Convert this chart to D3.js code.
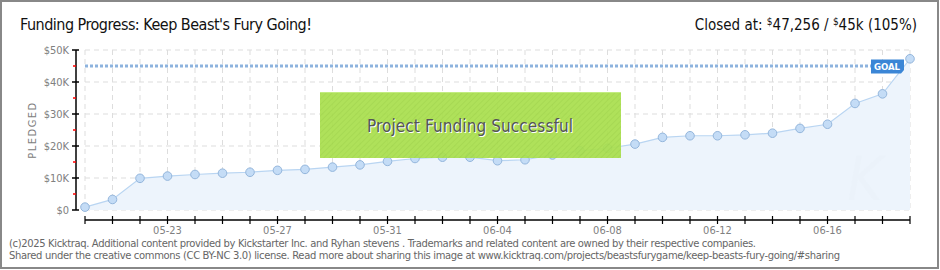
<!DOCTYPE html>
<meta charset="utf-8">
<style>
body { margin: 0; background: #fff; }
svg { display: block; }
text { font-family: "DejaVu Sans Condensed", "DejaVu Sans", sans-serif; }
.ax text { fill: #808080; font-size: 11px; }
.foot { fill: #666; font-size: 10px; font-family: "DejaVu Sans", sans-serif; }
</style>
<svg width="940" height="270"></svg>
<script src="https://cdnjs.cloudflare.com/ajax/libs/d3/7.8.5/d3.min.js"></script>
<script>

// pledged totals per day, 05-20 .. 06-19
var days = ["05-20","05-21","05-22","05-23","05-24","05-25","05-26","05-27","05-28","05-29",
            "05-30","05-31","06-01","06-02","06-03","06-04","06-05","06-06","06-07","06-08",
            "06-09","06-10","06-11","06-12","06-13","06-14","06-15","06-16","06-17","06-18","06-19"];
var pledged = [900, 3300, 9900, 10600, 11100, 11500, 11800, 12400, 12700, 13400,
               14100, 15200, 16100, 16500, 16500, 15400, 15700, 17200, 18500, 19300,
               20600, 22700, 23200, 23200, 23500, 24000, 25500, 26800, 33300, 36300, 47256];
var goal = 45000;
var labelDays = ["05-23","05-27","05-31","06-04","06-08","06-12","06-16"];
var yTicks = [0, 10000, 20000, 30000, 40000, 50000];
var yMinor = [5000, 15000, 25000, 35000, 45000];

var svg = d3.select("svg");

// frame
svg.append("rect").attr("x", 1).attr("y", 1).attr("width", 937).attr("height", 267)
    .attr("fill", "#fff").attr("stroke", "#888").attr("stroke-width", 2);

var x = d3.scalePoint().domain(days).range([85, 910]);
var y = d3.scaleLinear().domain([0, 50000]).range([210, 50]);

var defs = svg.append("defs");
var hatch = defs.append("pattern").attr("id", "hatch").attr("patternUnits", "userSpaceOnUse")
    .attr("width", 4).attr("height", 4).attr("patternTransform", "rotate(45)");
hatch.append("rect").attr("width", 4).attr("height", 4).attr("fill", "#a9df4e");
hatch.append("rect").attr("width", 1).attr("height", 4).attr("fill", "#a0d646");

// grid
var grid = svg.append("g").attr("stroke", "#ddd").attr("stroke-dasharray", "5,4");
grid.selectAll("line.v").data(days).enter().append("line")
    .attr("x1", function(d) { return x(d); }).attr("x2", function(d) { return x(d); })
    .attr("y1", 50).attr("y2", 210);
grid.selectAll("line.h").data(yTicks).enter().append("line")
    .attr("x1", 85).attr("x2", 910)
    .attr("y1", function(d) { return y(d); }).attr("y2", function(d) { return y(d); });

// area + line
var area = d3.area().x(function(d, i) { return x(days[i]); }).y0(y(0)).y1(function(d) { return y(d); });
svg.append("path").datum(pledged).attr("d", area).attr("fill", "#edf4fc");
var line = d3.line().x(function(d, i) { return x(days[i]); }).y(function(d) { return y(d); });
svg.append("path").datum(pledged).attr("d", line).attr("fill", "none")
    .attr("stroke", "#b9d5f2").attr("stroke-width", 1.2);

// watermark K
svg.append("text").attr("x", 865).attr("y", 200).attr("text-anchor", "middle")
    .attr("font-size", 60).attr("font-style", "italic").attr("fill", "#e8eff8")
    .attr("fill-opacity", 0.4).text("K");

// goal line
svg.append("line").attr("x1", 85).attr("x2", 871).attr("y1", y(goal)).attr("y2", y(goal))
    .attr("stroke", "#8db3de").attr("stroke-width", 3).attr("stroke-dasharray", "3,2");

// points
svg.selectAll("circle.pt").data(pledged).enter().append("circle")
    .attr("cx", function(d, i) { return x(days[i]); })
    .attr("cy", function(d) { return y(d); })
    .attr("r", 4.3).attr("fill", "#c4dcf6").attr("stroke", "#94b6dc").attr("stroke-width", 1);

// goal label
svg.append("path").attr("d", "M871,59.5 H904 V70 L901,73.5 H871 Z").attr("fill", "#3b86d6");
svg.append("text").attr("x", 887).attr("y", 70).attr("text-anchor", "middle")
    .attr("fill", "#fff").attr("font-size", 9.5).attr("font-weight", "bold").text("GOAL");

// success box
svg.append("rect").attr("x", 320).attr("y", 92).attr("width", 301).attr("height", 66)
    .attr("fill", "url(#hatch)").attr("fill-opacity", 0.93);
svg.append("line").attr("x1", 320).attr("x2", 621).attr("y1", 92.5).attr("y2", 92.5)
    .attr("stroke", "#c2ec80");
svg.append("text").attr("x", 471).attr("y", 133).attr("text-anchor", "middle")
    .attr("font-size", 17).attr("fill", "#fff").attr("textLength", 206).text("Project Funding Successful");
svg.append("text").attr("x", 470).attr("y", 132).attr("text-anchor", "middle")
    .attr("font-size", 17).attr("fill", "#555").attr("textLength", 206).text("Project Funding Successful");

// y axis
var yAxis = svg.append("g").attr("class", "ax");
yAxis.append("line").attr("x1", 76).attr("x2", 76).attr("y1", 50).attr("y2", 210)
    .attr("stroke", "#000").attr("stroke-width", 1.5);
yAxis.selectAll("line.t").data(yTicks).enter().append("line")
    .attr("x1", 72).attr("x2", 79).attr("y1", function(d) { return y(d); }).attr("y2", function(d) { return y(d); })
    .attr("stroke", "#000").attr("stroke-width", 1.5);
yAxis.selectAll("line.m").data(yMinor).enter().append("line")
    .attr("x1", 73).attr("x2", 76).attr("y1", function(d) { return y(d); }).attr("y2", function(d) { return y(d); })
    .attr("stroke", "#f00").attr("stroke-width", 1.5);
yAxis.selectAll("text.l").data(yTicks).enter().append("text")
    .attr("x", 69).attr("y", function(d) { return y(d) + 4; }).attr("text-anchor", "end")
    .text(function(d) { return d === 0 ? "$0" : "$" + d / 1000 + "K"; });
yAxis.append("text").attr("transform", "translate(36,130) rotate(-90)").attr("text-anchor", "middle")
    .attr("font-size", 10).attr("letter-spacing", 1.5).text("PLEDGED");

// x axis
var xAxis = svg.append("g").attr("class", "ax");
xAxis.append("line").attr("x1", 85).attr("x2", 910).attr("y1", 220).attr("y2", 220)
    .attr("stroke", "#000").attr("stroke-width", 1.5);
xAxis.selectAll("line.t").data(days).enter().append("line")
    .attr("x1", function(d) { return x(d); }).attr("x2", function(d) { return x(d); })
    .attr("y1", 216).attr("y2", 224).attr("stroke", "#000").attr("stroke-width", 1.2);
xAxis.selectAll("text.l").data(labelDays).enter().append("text")
    .attr("x", function(d) { return x(d); }).attr("y", 234).attr("text-anchor", "middle")
    .text(function(d) { return d; });

// titles
svg.append("text").attr("x", 20).attr("y", 30).attr("font-size", 16).attr("fill", "#111")
    .attr("textLength", 292).text("Funding Progress: Keep Beast's Fury Going!");
var closedText = svg.append("text").attr("x", 917).attr("y", 30).attr("text-anchor", "end")
    .attr("font-size", 15).attr("fill", "#111");
closedText.append("tspan").text("Closed at:  ");
closedText.append("tspan").attr("font-size", 10).attr("dy", -5).text("$");
closedText.append("tspan").attr("dy", 5).text("47,256 / ");
closedText.append("tspan").attr("font-size", 10).attr("dy", -5).text("$");
closedText.append("tspan").attr("dy", 5).text("45k (105%)");

// footer
svg.append("text").attr("class", "foot").attr("x", 9).attr("y", 247).attr("textLength", 747)
    .text("(c)2025 Kicktraq. Additional content provided by Kickstarter Inc. and  Ryhan stevens . Trademarks and related content are owned by their respective companies.");
svg.append("text").attr("class", "foot").attr("x", 9).attr("y", 259).attr("textLength", 831)
    .text("Shared under the creative commons (CC BY-NC 3.0) license. Read more about sharing this image at www.kicktraq.com/projects/beastsfurygame/keep-beasts-fury-going/#sharing");

</script>
